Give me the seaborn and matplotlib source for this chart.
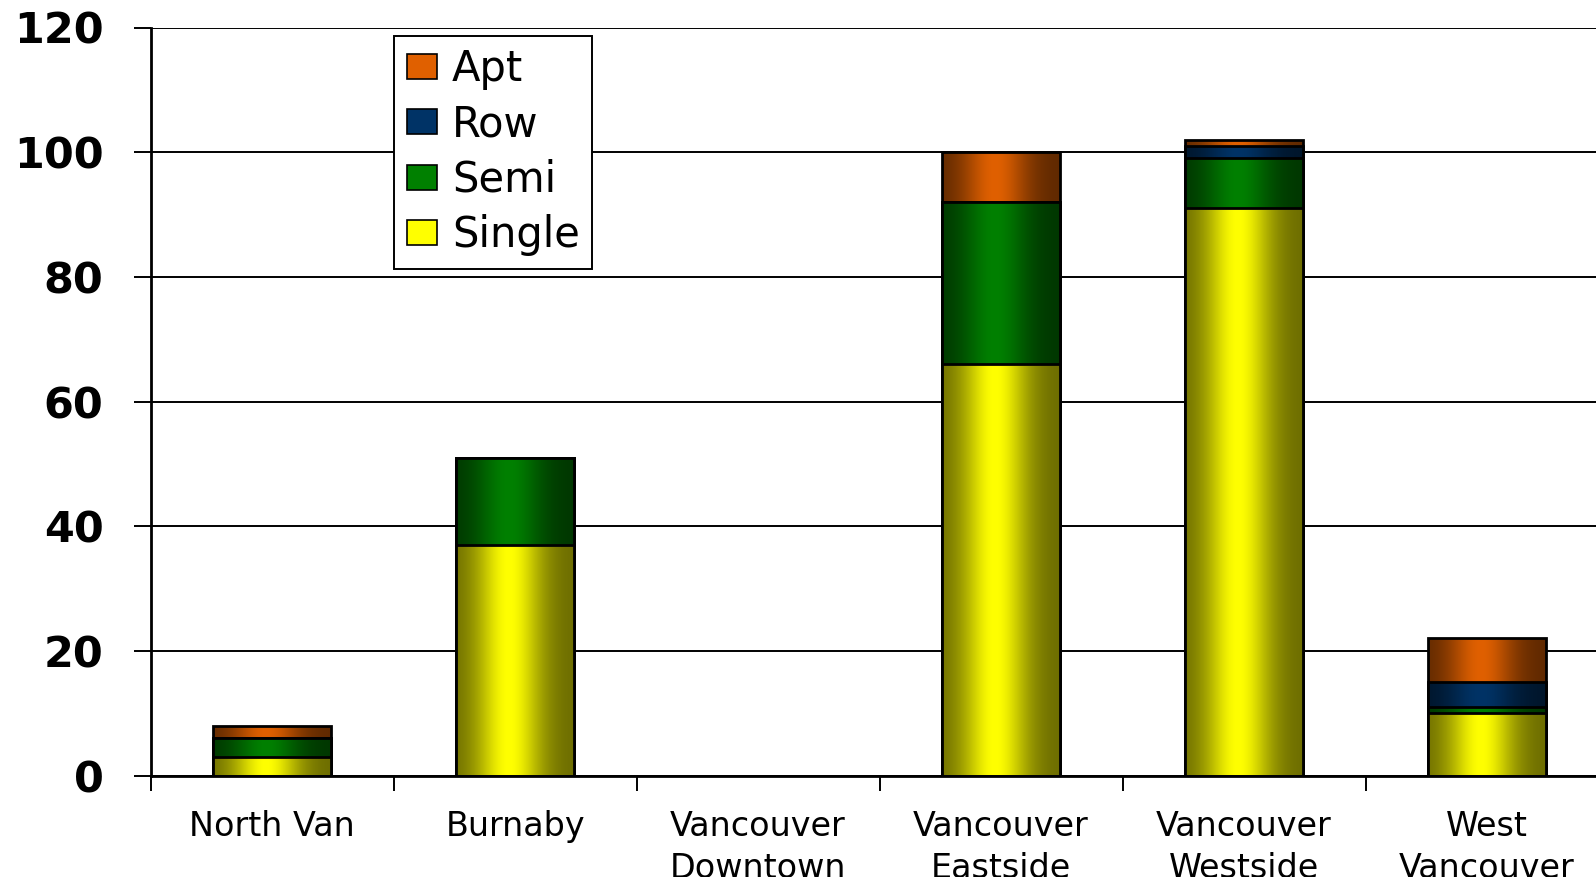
import numpy as np
import pandas as pd
import matplotlib
matplotlib.use("Agg")
import matplotlib.pyplot as plt
from matplotlib.patches import Patch
from matplotlib.colors import to_rgb
import seaborn as sns

# ---- data -------------------------------------------------------------
areas = ["North Van", "Burnaby", "Vancouver\nDowntown", "Vancouver\nEastside",
         "Vancouver\nWestside", "West\nVancouver"]
single = [3, 37, 0, 66, 91, 10]
semi = [3, 14, 0, 26, 8, 1]
row = [0, 0, 0, 0, 2, 4]
apt = [2, 0, 0, 8, 1, 7]

series_names = ["Single", "Semi", "Row", "Apt"]
series_colors = {"Single": "#ffff00", "Semi": "#008000",
                 "Row": "#003366", "Apt": "#e06000"}
y_ticks = [0, 20, 40, 60, 80, 100, 120]

df = pd.DataFrame({"area": areas, "Single": single, "Semi": semi,
                   "Row": row, "Apt": apt})
# cumulative heights for stacking
cum = df[series_names].cumsum(axis=1).assign(area=df["area"])

sns.set_theme(style="white")
plt.rcParams["font.family"] = ["DejaVu Sans"]
plt.rcParams["text.color"] = "black"
plt.rcParams["xtick.color"] = "black"
plt.rcParams["ytick.color"] = "black"

fig = plt.figure(figsize=(15.96, 8.77), dpi=100)
ax = fig.add_axes([150.6 / 1596, 1 - 775.6 / 877, (1608.6 - 150.6) / 1596,
                   (775.6 - 27.5) / 877])

def shade_profile(n=256):
    t = np.linspace(0, 1, n)
    return 0.42 + 0.58 * np.exp(-((t - 0.45) / 0.28) ** 2)

profile = shade_profile()

# stacked bars drawn from the top layer down, each shaded with a
# horizontal gradient clipped to the bar outline
for layer, name in enumerate(reversed(series_names)):
    n_before = len(ax.patches)
    sns.barplot(data=cum, x="area", y=name, color=series_colors[name],
                width=0.485, ax=ax, saturation=1, errorbar=None)
    base = np.array(to_rgb(series_colors[name]))
    grad = np.clip(profile[None, :, None] * base[None, None, :], 0, 1)
    z = 3 + layer
    for p in ax.patches[n_before:]:
        p.set_facecolor("none")
        p.set_edgecolor("black")
        p.set_linewidth(2.0)
        p.set_zorder(z + 0.5)
        h = p.get_height()
        if h <= 0:
            continue
        x0 = p.get_x()
        w = p.get_width()
        im = ax.imshow(grad, extent=[x0, x0 + w, 0, h], aspect="auto",
                       interpolation="bilinear", zorder=z)
        im.set_clip_path(p)

ax.set_xlim(-0.5, 5.5)
ax.set_ylim(0, 120)
ax.set_xlabel("")
ax.set_ylabel("")

# axes styling
for s in ["top", "right"]:
    ax.spines[s].set_visible(False)
for s in ["left", "bottom"]:
    ax.spines[s].set_color("black")
    ax.spines[s].set_linewidth(2.0)
    ax.spines[s].set_zorder(20)

ax.set_yticks(y_ticks)
ax.set_yticklabels([str(v) for v in y_ticks], fontsize=31, fontweight="bold",
                   color="black")
ax.yaxis.grid(True, color="black", linewidth=1.4)
ax.set_axisbelow(True)
ax.tick_params(axis="y", which="major", direction="out", length=12,
               width=1.4, color="black", left=True, pad=22)

ax.set_xticks(range(len(areas)))
ax.set_xticklabels(areas, fontsize=24, linespacing=1.32, color="black")
ax.set_xticks(np.arange(-0.5, len(areas), 1.0), minor=True)
ax.tick_params(axis="x", which="major", length=0, pad=25, bottom=True)
ax.tick_params(axis="x", which="minor", direction="out", length=11,
               width=1.4, color="black", bottom=True)

handles = [Patch(facecolor=series_colors[n], edgecolor="black", linewidth=1.2,
                 label=n) for n in reversed(series_names)]
leg = ax.legend(handles=handles, loc="upper left",
                bbox_to_anchor=(0.167, 0.989), fontsize=30, frameon=True,
                fancybox=False, framealpha=1, edgecolor="black",
                handlelength=0.73, handleheight=0.54, handletextpad=0.36,
                labelspacing=0.32, borderpad=0.3, borderaxespad=0)
leg.get_frame().set_linewidth(1.4)
leg.set_zorder(30)
for t in leg.get_texts():
    t.set_color("black")

fig.savefig("out.png", dpi=100)
